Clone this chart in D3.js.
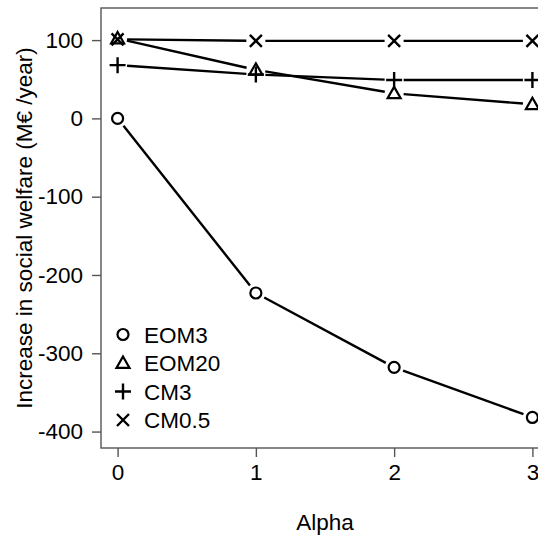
<!DOCTYPE html>
<html><head><meta charset="utf-8">
<script src="https://cdn.jsdelivr.net/npm/d3@7"></script>
<style>body{margin:0;background:#fff}svg{display:block;font-family:"Liberation Sans",Arial,sans-serif}</style>
</head><body><svg id="c" width="538" height="536"></svg>
<script>
const alpha = [0, 1, 2, 3];
const seriesNames = ["EOM3", "EOM20", "CM3", "CM0.5"];
const eom3 = [0, -223, -318, -382];
const eom20 = [102, 62, 32, 18];
const cm3 = [68, 56, 49, 49];
const cm05 = [101, 99, 99, 99];
const yTicks = [100, 0, -100, -200, -300, -400];
const xTicks = [0, 1, 2, 3];
const symbols = ["circle", "triangle", "plus", "cross"];
const seriesValues = [eom3, eom20, cm3, cm05];

const svg = d3.select("#c");
const L = 101, R = 549, T = 8, B = 448;
const FS = 22.5;
const x = d3.scaleLinear().domain([-0.12, 3.12]).range([L, R]);
const y = d3.scaleLinear().domain([-421, 141]).range([B, T]);

// box
svg.append("rect").attr("x", L).attr("y", T).attr("width", R - L).attr("height", B - T)
  .attr("fill", "none").attr("stroke", "#555").attr("stroke-width", 1.4);

// axes
const yAx = svg.append("g").attr("transform", `translate(${L},0)`)
  .call(d3.axisLeft(y).tickValues(yTicks).tickSize(9).tickPadding(9).tickFormat(d => String(d)));
const xAx = svg.append("g").attr("transform", `translate(0,${B})`)
  .call(d3.axisBottom(x).tickValues(xTicks).tickSize(9).tickPadding(7).tickFormat(d => String(d)));
[yAx, xAx].forEach(g => {
  g.select(".domain").remove();
  g.selectAll(".tick line").attr("stroke", "#555").attr("stroke-width", 1.4);
  g.selectAll("text").attr("font-size", FS).attr("fill", "#000").attr("font-family", '"Liberation Sans",Arial,sans-serif');
});

// titles
svg.append("text").attr("x", (L + R) / 2).attr("y", 530).attr("text-anchor", "middle")
  .attr("font-size", FS).text("Alpha");
svg.append("text").attr("transform", `translate(32,${(T + B) / 2}) rotate(-90)`).attr("text-anchor", "middle")
  .attr("font-size", FS).text("Increase in social welfare (M\u20ac /year)");

function drawSymbol(g, type, cx, cy) {
  const s = 6;
  if (type === "circle") {
    g.append("circle").attr("cx", cx).attr("cy", cy).attr("r", 5.5)
      .attr("fill", "none").attr("stroke", "#000").attr("stroke-width", 2.2);
  } else if (type === "triangle") {
    const h = 6.5;
    g.append("path").attr("d", `M${cx},${cy - h}L${cx + 6.5},${cy + h * 0.75}L${cx - 6.5},${cy + h * 0.75}Z`)
      .attr("fill", "none").attr("stroke", "#000").attr("stroke-width", 2.2);
  } else if (type === "plus") {
    g.append("path").attr("d", `M${cx - 8},${cy}H${cx + 8}M${cx},${cy - 8}V${cy + 8}`)
      .attr("stroke", "#000").attr("stroke-width", 2.4);
  } else {
    g.append("path").attr("d", `M${cx - s},${cy - s}L${cx + s},${cy + s}M${cx - s},${cy + s}L${cx + s},${cy - s}`)
      .attr("stroke", "#000").attr("stroke-width", 2.4);
  }
}

const gap = 9.5;
seriesValues.forEach((vals, si) => {
  const g = svg.append("g");
  const pts = alpha.map((a, i) => [x(a), y(vals[i])]);
  for (let i = 0; i < pts.length - 1; i++) {
    const [x1, y1] = pts[i], [x2, y2] = pts[i + 1];
    const dx = x2 - x1, dy = y2 - y1, len = Math.hypot(dx, dy);
    if (len <= 2 * gap) continue;
    const ux = dx / len, uy = dy / len;
    g.append("line").attr("x1", x1 + ux * gap).attr("y1", y1 + uy * gap)
      .attr("x2", x2 - ux * gap).attr("y2", y2 - uy * gap)
      .attr("stroke", "#000").attr("stroke-width", 2.4);
  }
  pts.forEach(p => drawSymbol(g, symbols[si], p[0], p[1]));
});

// legend
const legY = [334.5, 363, 391.5, 420];
seriesNames.forEach((n, i) => {
  drawSymbol(svg, symbols[i], 123, legY[i]);
  svg.append("text").attr("x", 144).attr("y", legY[i] + 8).attr("font-size", FS).text(n);
});
</script></body></html>
